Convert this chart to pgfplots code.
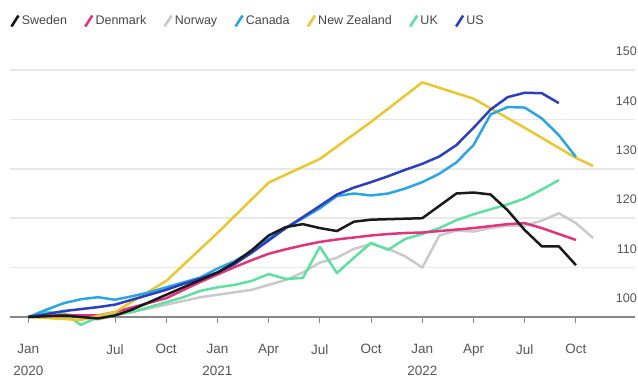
\documentclass[border=0pt]{standalone}
\usepackage{pgfplots}
\pgfplotsset{compat=1.18}
\usepackage{fontspec}
\setmainfont{Liberation Sans}

\definecolor{cSweden}{HTML}{1A1A1A}
\definecolor{cDenmark}{HTML}{E0357C}
\definecolor{cNorway}{HTML}{CACACA}
\definecolor{cCanada}{HTML}{2BA6E2}
\definecolor{cNZ}{HTML}{E8C730}
\definecolor{cUK}{HTML}{5EE0A2}
\definecolor{cUS}{HTML}{2C3FBE}
\definecolor{labelgray}{HTML}{555555}
\definecolor{legendgray}{HTML}{444444}
\definecolor{gridgray}{HTML}{E8E8E8}
\definecolor{axisgray}{HTML}{888888}

% x = months since January 2020, y = index
\pgfplotstableread{
x y
0.92 100
3 100.3
5 99.7
6 100.3
7 101.5
9 104.5
11 107.5
12 109
13 111
14 113.5
15 116.5
16 118.2
17 118.8
18 118
19 117.4
20 119.3
21 119.7
22 119.8
23 119.9
24 120
25 122.5
26 125
27 125.2
28 124.8
29 121.6
30 117.6
31 114.3
32 114.3
33 110.5
}\sweden

\pgfplotstableread{
x y
0.92 100
3 100.4
5 100.3
6 101
9 103.8
11 107.1
12 108.6
13 110.1
14 111.5
15 112.8
16 113.7
17 114.5
18 115.2
19 115.7
20 116.1
21 116.5
22 116.8
23 117
24 117.1
25 117.4
26 117.7
27 118
28 118.4
29 118.8
30 119
31 118
32 116.8
33 115.6
}\denmark

\pgfplotstableread{
x y
0.92 100
3 100.8
4 99.8
5 99.5
6 100.3
7 101
9 102.5
11 104
12 104.5
13 105
14 105.5
15 106.5
16 107.5
17 109
18 111
19 112
20 113.8
21 114.8
22 113.8
23 112.3
24 110
25 116.5
26 117.5
27 117.3
28 118
29 118.5
30 118.5
31 119.5
32 121
33 119
34 116
}\norway

\pgfplotstableread{
x y
0.92 100
2 101.5
3 102.8
4 103.6
5 104
6 103.5
7 104.2
8 105
9 106
10 107
11 108
12 109.8
13 111.3
14 113.3
15 115.8
16 118
17 120
18 122
19 124.5
20 125
21 124.6
22 125
23 126
24 127.3
25 129
26 131.3
27 134.8
28 141
29 142.5
30 142.4
31 140.2
32 136.8
33 132.4
}\canada

\pgfplotstableread{
x y
0.92 100
4 99.4
6 101
9 107.3
12 117
15 127.2
18 132
21 139.5
24 147.5
27 144.2
30 138.3
33 132.2
34 130.6
}\newzealand

\pgfplotstableread{
x y
0.92 100
2 101
3 100.8
4 98.4
5 100
6 100.5
7 101
8 102
9 103
10 104
11 105.3
12 106
13 106.5
14 107.3
15 108.7
16 107.7
17 107.9
18 114.2
19 108.9
20 112
21 115
22 113.6
23 115.8
24 116.8
25 118
26 119.6
27 120.8
28 121.8
29 122.8
30 124
31 125.8
32 127.7
}\uk

\pgfplotstableread{
x y
0.92 100
2 100.6
3 101.2
4 101.6
5 102
6 102.5
7 103.5
8 104.5
9 105.5
10 106.7
11 107.8
12 109
13 110.7
14 113
15 115.5
16 118
17 120.2
18 122.5
19 124.8
20 126.2
21 127.3
22 128.5
23 129.8
24 131
25 132.5
26 134.8
27 138.3
28 142
29 144.5
30 145.4
31 145.3
32 143.3
}\us

\begin{document}
\begin{tikzpicture}
\useasboundingbox (-10pt,-61pt) rectangle (628pt,317pt);
\begin{axis}[
  at={(0pt,0pt)}, anchor=south west,
  scale only axis, width=625pt, height=247pt,
  xmin=-0.151, xmax=36.46, ymin=100, ymax=150,
  clip=false,
  axis x line*=bottom,
  axis y line*=right,
  x axis line style={draw=axisgray, line width=1.3pt},
  y axis line style={draw=none},
  xtick={0.92,6,9,12,15,18,21,24,27,30,33},
  xticklabels={Jan\\2020,Jul,Oct,Jan\\2021,Apr,Jul,Oct,Jan\\2022,Apr,Jul,Oct},
  xtick style={draw=axisgray, line width=1pt},
  tick align=outside,
  major tick length=6pt,
  xticklabel style={align=center, text=labelgray,
    font=\fontsize{13.5}{22}\selectfont, yshift=-18pt},
  ytick={100,110,120,130,140,150},
  ytick style={draw=none},
  yticklabel style={anchor=south east, inner sep=0pt, text=labelgray,
    font=\fontsize{12.5}{14}\selectfont, xshift=-4pt, yshift=14pt},
  /pgf/number format/assume math mode=true,
  ymajorgrids,
  grid style={draw=gridgray, line width=1.5pt},
  legend columns=-1,
  legend style={at={(rel axis cs:0,1)}, anchor=west, yshift=49pt,
    draw=none, fill=none, inner sep=0pt, text=legendgray,
    font=\fontsize{12.5}{14}\selectfont,
    /tikz/every even column/.append style={column sep=15pt}},
  legend cell align=left,
  legend image code/.code={\draw[#1, line width=2.6pt] (0pt,-5.5pt) -- (7pt,5.5pt);},
  every axis plot/.append style={line width=2.5pt, line join=round},
]
\addlegendimage{cSweden}\addlegendentry{Sweden}
\addlegendimage{cDenmark}\addlegendentry{Denmark}
\addlegendimage{cNorway}\addlegendentry{Norway}
\addlegendimage{cCanada}\addlegendentry{Canada}
\addlegendimage{cNZ}\addlegendentry{New Zealand}
\addlegendimage{cUK}\addlegendentry{UK}
\addlegendimage{cUS}\addlegendentry{US}

\addplot[cNorway, forget plot] table {\norway};
\addplot[cUK, forget plot] table {\uk};
\addplot[cDenmark, forget plot] table {\denmark};
\addplot[cNZ, forget plot] table {\newzealand};
\addplot[cCanada, forget plot] table {\canada};
\addplot[cUS, forget plot] table {\us};
\addplot[cSweden, forget plot] table {\sweden};
\end{axis}
\end{tikzpicture}
\end{document}
